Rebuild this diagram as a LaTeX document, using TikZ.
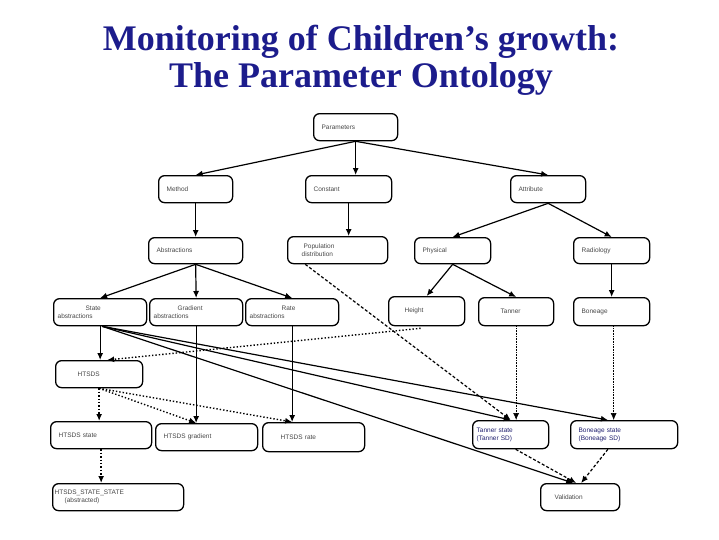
\documentclass[tikz,border=0pt]{standalone}
\usepackage{fontspec}
\setmainfont{Liberation Serif}
\setsansfont{Liberation Sans}
\usetikzlibrary{arrows.meta,calc}
\definecolor{titleblue}{RGB}{28,28,140}
\definecolor{labgray}{RGB}{70,70,70}
\definecolor{labblue}{RGB}{30,30,110}
\begin{document}
\begin{tikzpicture}[x=1pt,y=-1pt,
  box/.style={draw, line width=1.3pt, rounded corners=6pt, anchor=north west,
    font=\fontsize{6.5}{8}\selectfont\sffamily, text=labgray, align=left,
    inner xsep=8pt, inner ysep=0pt},
  arr/.style={-{Latex[length=7pt,width=6pt]}, line width=1.2pt},
  fdot/.style={-{Latex[length=7pt,width=6pt]}, densely dotted, line width=0.6pt},
  tdot/.style={-{Latex[length=7pt,width=6pt]}, dotted, line width=1.4pt},
  tdash/.style={-{Latex[length=7pt,width=6pt]}, densely dashed, line width=1.2pt}
]
\useasboundingbox (0,0) rectangle (719,539);
\node[font=\fontsize{36}{37}\selectfont\bfseries, text=titleblue, align=center] (title) at (361,60)
  {Monitoring of Children’s growth:\\The Parameter Ontology};

% row 1
\node[box, minimum width=84pt, minimum height=27pt, text width=68pt] (par) at (313,113) {Parameters};
% row 2
\node[box, minimum width=74pt, minimum height=27pt, text width=58pt] (met) at (158,175) {Method};
\node[box, minimum width=86pt, minimum height=27pt, text width=70pt] (con) at (305,175) {Constant};
\node[box, minimum width=75pt, minimum height=27pt, text width=59pt] (att) at (510,175) {Attribute};
% row 3
\node[box, minimum width=94pt, minimum height=26pt, text width=78pt] (abs) at (148,237) {Abstractions};
\node[box, minimum width=100pt, minimum height=27pt, text width=84pt] (pop) at (287,236) {\hspace*{8pt}Population\\\hspace*{6pt}distribution};
\node[box, minimum width=76pt, minimum height=26pt, text width=60pt] (phy) at (414,237) {Physical};
\node[box, minimum width=76pt, minimum height=26pt, text width=60pt] (rad) at (573,237) {Radiology};
% row 4
\node[box, minimum width=93pt, minimum height=27pt, text width=85pt, inner xsep=4pt] (sta) at (53,298) {\hspace*{28pt}State\\abstractions};
\node[box, minimum width=93pt, minimum height=27pt, text width=85pt, inner xsep=4pt] (gra) at (149,298) {\hspace*{24pt}Gradient\\abstractions};
\node[box, minimum width=93pt, minimum height=27pt, text width=85pt, inner xsep=4pt] (rat) at (245,298) {\hspace*{32pt}Rate\\abstractions};
\node[box, minimum width=76pt, minimum height=29pt, text width=60pt, inner xsep=8pt] (hei) at (388,296) {\hspace*{8pt}Height};
\node[box, minimum width=75pt, minimum height=28pt, text width=59pt] (tan) at (478,297) {\hspace*{14pt}Tanner};
\node[box, minimum width=76pt, minimum height=28pt, text width=60pt] (bon) at (573,297) {Boneage};
% row 5
\node[box, minimum width=87pt, minimum height=27pt, text width=71pt] (hts) at (55,360) {\hspace*{14pt}HTSDS};
% row 6
\node[box, minimum width=101pt, minimum height=27pt, text width=85pt] (hst) at (50,421) {HTSDS state};
\node[box, minimum width=102pt, minimum height=27pt, text width=86pt, inner xsep=5pt] (hgr) at (155,423) {HTSDS gradient};
\node[box, minimum width=98pt, minimum height=29pt, text width=82pt, inner xsep=10pt] (hra) at (262,422) {\hspace*{8pt}HTSDS rate};
\node[box, minimum width=76pt, minimum height=28pt, text width=68pt, inner xsep=4pt, text=labblue] (tst) at (472,420) {Tanner state\\(Tanner SD)};
\node[box, minimum width=107pt, minimum height=28pt, text width=91pt, text=labblue] (bst) at (570,420) {Boneage state\\(Boneage SD)};
% row 7
\node[box, minimum width=131pt, minimum height=27pt, text width=127pt, inner xsep=2pt] (hss) at (52,483) {HTSDS\_STATE\_STATE\\\hspace*{10pt}(abstracted)};
\node[box, minimum width=79pt, minimum height=27pt, text width=63pt] (val) at (540,483) {\hspace*{6pt}Validation};

% solid arrows
\draw[arr] (par.south) -- (met.north);
\draw[arr] (par.south) -- (par.south |- con.north);
\draw[arr] (par.south) -- (att.north);
\draw[arr] (met.south) -- (abs.north);
\draw[arr] (con.south) -- (con.south |- pop.north);
\draw[arr] (att.south) -- (phy.north);
\draw[arr] (att.south) -- (rad.north);
\draw[arr] (abs.south) -- (sta.north);
\draw[arr] (abs.south) -- (gra.north);
\draw[arr] (abs.south) -- (rat.north);
\draw[arr] (phy.south) -- (hei.north);
\draw[arr] (phy.south) -- (tan.north);
\draw[arr] (rad.south) -- (bon.north);
\draw[arr] (sta.south) -- (sta.south |- hts.north);
\draw[arr] (gra.south) -- (gra.south |- hgr.north);
\draw[arr] (rat.south) -- (rat.south |- hra.north);
\coordinate (stout) at ($(sta.south)+(2,0)$);
\draw[arr] (stout) -- (tst.north);
\draw[arr] (stout) -- ($(bst.north west)!0.35!(bst.north east)$);
\draw[arr] (stout) -- ($(val.north)+(-7,0)$);

% dotted / dashed arrows
\draw[tdot] ($(hei.south)+(-6,2)$) -- ($(hts.north)+(8,0)$);
\draw[tdash] ($(pop.south west)!0.18!(pop.south east)$) -- (tst.north);
\draw[fdot] (tan.south) -- (tan.south |- tst.north);
\draw[fdot] ($(bon.south)+(2,0)$) -- ($(bon.south |- bst.north)+(2,0)$);
\draw[tdot] (hts.south) -- (hts.south |- hst.north);
\draw[tdot] (hts.south) -- (gra.south |- hgr.north);
\draw[tdot] (hts.south) -- (rat.south |- hra.north);
\draw[tdot] (hst.south) -- (hst.south |- hss.north);
\draw[tdash] ($(tst.south)+(5,0)$) -- ($(val.north)+(-4,0)$);
\draw[tdash] ($(bst.south west)!0.35!(bst.south east)$) -- ($(val.north)+(1,0)$);
\end{tikzpicture}
\end{document}
